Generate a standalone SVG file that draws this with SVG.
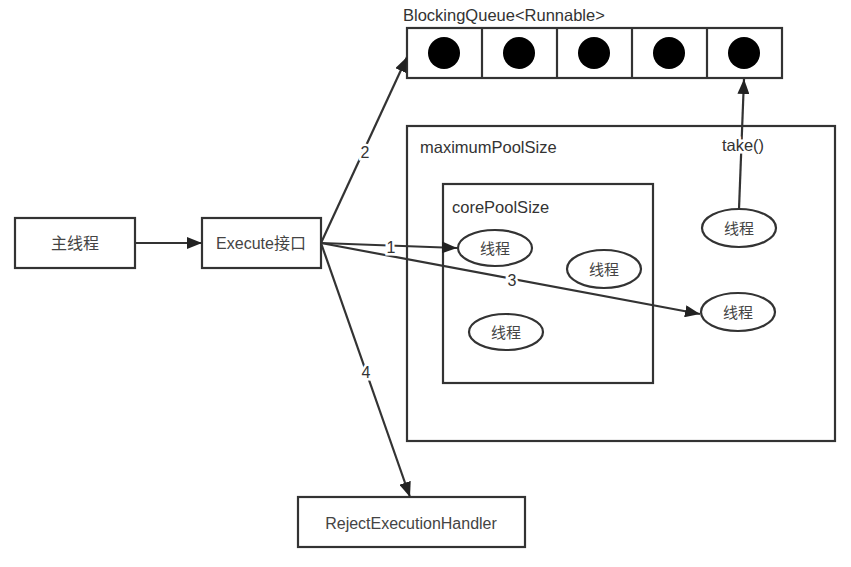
<svg xmlns="http://www.w3.org/2000/svg" width="851" height="567" viewBox="0 0 851 567">
<style>
  .box { fill: #fff; stroke: #333; stroke-width: 2.2; }
  .frame { fill: none; stroke: #333; stroke-width: 2.2; }
  .ell { fill: #fff; stroke: #333; stroke-width: 2.2; }
  .dot { fill: #000; }
  .t { font-family: "Liberation Sans", "Noto Sans CJK SC", sans-serif; font-size: 16px; fill: #444; text-anchor: middle; dominant-baseline: central; }
  .lbl { font-family: "Liberation Sans", "Noto Sans CJK SC", sans-serif; font-size: 16.5px; fill: #333; dominant-baseline: central; }
  .num { font-family: "Liberation Sans", sans-serif; font-size: 16px; fill: #333; text-anchor: middle; dominant-baseline: central; stroke: #fff; stroke-width: 5; paint-order: stroke; }
  .conn { stroke: #333; stroke-width: 2.2; fill: none; marker-end: url(#arr); }
</style>
<defs>
  <marker id="arr" markerUnits="userSpaceOnUse" markerWidth="16" markerHeight="12" refX="15" refY="6" orient="auto">
    <path d="M0,0 L15,6 L0,12 z" fill="#222"/>
  </marker>
</defs>
<rect width="851" height="567" fill="#fff"/>

<g id="blocking-queue">
  <text class="lbl" x="403" y="15">BlockingQueue&lt;Runnable&gt;</text>
  <rect class="box" x="407" y="28" width="375" height="50"/>
  <line class="frame" x1="482" y1="28" x2="482" y2="78"/>
  <line class="frame" x1="557" y1="28" x2="557" y2="78"/>
  <line class="frame" x1="632" y1="28" x2="632" y2="78"/>
  <line class="frame" x1="707" y1="28" x2="707" y2="78"/>
  <circle class="dot" cx="444" cy="53" r="16"/>
  <circle class="dot" cx="519" cy="53" r="16"/>
  <circle class="dot" cx="594" cy="53" r="16"/>
  <circle class="dot" cx="669" cy="53" r="16"/>
  <circle class="dot" cx="744" cy="53" r="16"/>
</g>

<g id="maximum-pool">
  <rect class="frame" x="407" y="126" width="428" height="315"/>
  <text class="lbl" x="420" y="147">maximumPoolSize</text>
</g>

<g id="core-pool">
  <rect class="frame" x="443" y="184" width="210" height="199"/>
  <text class="lbl" x="452" y="207">corePoolSize</text>
</g>

<g id="main-thread">
  <rect class="box" x="15" y="218" width="120" height="50"/>
  <text class="t" x="75" y="243">主线程</text>
</g>

<g id="execute">
  <rect class="box" x="202" y="218" width="119" height="50"/>
  <text class="t" x="261" y="243">Execute接口</text>
</g>

<g id="reject-handler">
  <rect class="box" x="298" y="497" width="227" height="50"/>
  <text class="t" x="411" y="523">RejectExecutionHandler</text>
</g>

<g id="connectors">
  <line class="conn" x1="135" y1="243" x2="202" y2="243"/>
  <line class="conn" x1="321" y1="243" x2="407" y2="57"/>
  <line class="conn" x1="321" y1="243" x2="457" y2="248"/>
  <line class="conn" x1="321" y1="243" x2="700" y2="314"/>
  <line class="conn" x1="321" y1="243" x2="410" y2="497"/>
  <line class="conn" x1="739" y1="209" x2="744" y2="79"/>
  <text class="num" x="365" y="152">2</text>
  <text class="num" x="391" y="247">1</text>
  <text class="num" x="512" y="280">3</text>
  <text class="num" x="366" y="372">4</text>
  <text class="num" x="743" y="145" style="font-size:16.5px">take()</text>
</g>

<g id="thread-core-1">
  <ellipse class="ell" cx="495" cy="248" rx="37" ry="18"/>
  <text class="t" x="495" y="248" style="font-size:15px">线程</text>
</g>
<g id="thread-core-2">
  <ellipse class="ell" cx="604" cy="269" rx="37" ry="19"/>
  <text class="t" x="604" y="269" style="font-size:15px">线程</text>
</g>
<g id="thread-core-3">
  <ellipse class="ell" cx="506" cy="332" rx="37" ry="18"/>
  <text class="t" x="506" y="332" style="font-size:15px">线程</text>
</g>
<g id="thread-take">
  <ellipse class="ell" cx="739" cy="228" rx="37" ry="19"/>
  <text class="t" x="739" y="228" style="font-size:15px">线程</text>
</g>
<g id="thread-max">
  <ellipse class="ell" cx="738" cy="312" rx="37" ry="19"/>
  <text class="t" x="738" y="312" style="font-size:15px">线程</text>
</g>
</svg>
